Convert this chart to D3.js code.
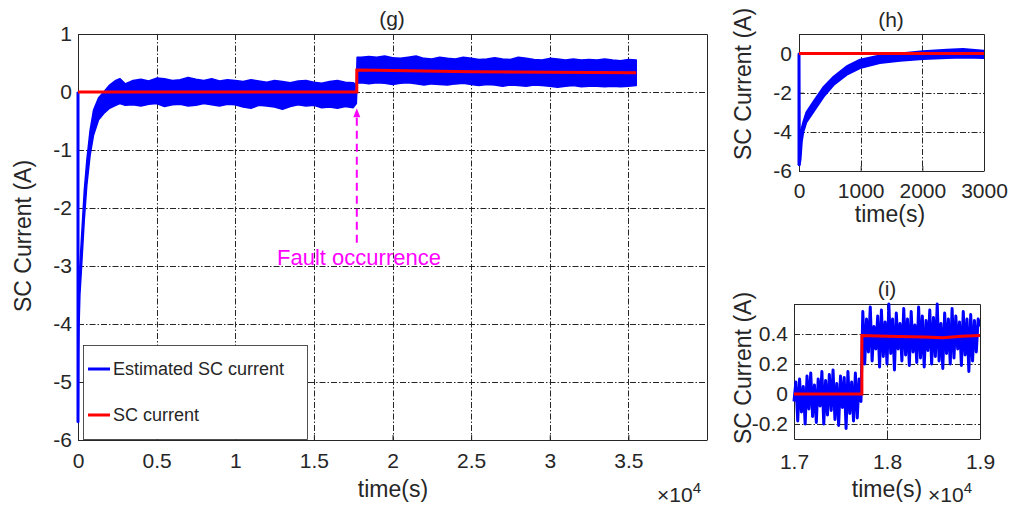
<!DOCTYPE html>
<html>
<head>
<meta charset="utf-8">
<script src="https://cdn.jsdelivr.net/npm/d3@7"></script>
<style>
  body { margin: 0; background: #fff; }
  text { font-family: "Liberation Sans", Arial, Helvetica, sans-serif; fill: #262626; }
</style>
</head>
<body>
<div id="chart"></div>
<script>
// ---- data ----
// start-up transient of the estimated SC current (envelope of the noisy trace)
const transT  = [0, 10, 25, 45, 70, 120, 230, 400, 560, 770, 990, 1310, 1640, 2010, 2400, 2660, 3000];
const transLo = [-5.7, -5.7, -5.4, -4.5, -4.0, -3.5, -3.0, -2.2, -1.61, -1.09, -0.74, -0.48, -0.37, -0.28, -0.23, -0.2, -0.23];
const transHi = [0, -5.0, -4.3, -3.8, -3.5, -3.0, -2.48, -1.7, -1.18, -0.66, -0.31, -0.1, 0.0, 0.12, 0.2, 0.23, 0.14];

// steady part before the fault (3500 ... 17500 s, every 500 s)
const preT  = [3500, 4000, 4500, 5000, 5500, 6000, 6500, 7000, 7500, 8000, 8500, 9000, 9500, 10000, 10500,
               11000, 11500, 12000, 12500, 13000, 13500, 14000, 14500, 15000, 15500, 16000, 16500, 17000, 17500, 17700];
const preHi = [0.2, 0.22, 0.19, 0.24, 0.23, 0.2, 0.21, 0.25, 0.22, 0.2, 0.23, 0.19, 0.21, 0.2, 0.18,
               0.21, 0.19, 0.17, 0.2, 0.18, 0.16, 0.19, 0.2, 0.17, 0.15, 0.18, 0.2, 0.17, 0.16, 0.12];
const preLo = [-0.22, -0.24, -0.21, -0.2, -0.25, -0.22, -0.21, -0.24, -0.23, -0.2, -0.22, -0.24, -0.21, -0.22, -0.26,
               -0.28, -0.23, -0.24, -0.26, -0.3, -0.25, -0.22, -0.24, -0.23, -0.27, -0.26, -0.28, -0.25, -0.27, -0.2];

// after the fault (17750 ... 35500 s)
const postT  = [17750, 18000, 18500, 19000, 19500, 20000, 20500, 21000, 21500, 22000, 22500, 23000, 23500, 24000, 24500,
                25000, 25500, 26000, 26500, 27000, 27500, 28000, 28500, 29000, 29500, 30000, 30500, 31000, 31500,
                32000, 32500, 33000, 33500, 34000, 34500, 35000, 35500];
const postHi = [0.6, 0.6, 0.61, 0.6, 0.62, 0.59, 0.58, 0.6, 0.62, 0.58, 0.57, 0.6, 0.58, 0.57, 0.6, 0.58, 0.56, 0.57, 0.59,
                0.57, 0.56, 0.6, 0.58, 0.56, 0.55, 0.58, 0.57, 0.55, 0.57, 0.55, 0.56, 0.55, 0.57, 0.55, 0.54, 0.56, 0.55];
const postLo = [0.15, 0.16, 0.14, 0.16, 0.15, 0.13, 0.15, 0.16, 0.14, 0.12, 0.14, 0.13, 0.12, 0.14, 0.15, 0.13, 0.11, 0.13, 0.12,
                0.1, 0.12, 0.11, 0.1, 0.12, 0.11, 0.1, 0.08, 0.1, 0.11, 0.09, 0.1, 0.1, 0.09, 0.1, 0.09, 0.1, 0.11];

// measured SC current (red)
const scT = [0, 17730, 17730, 20000, 25000, 30000, 35500];
const scV = [0, 0, 0.38, 0.37, 0.35, 0.34, 0.33];

// zoom (i): samples every 20 s from 17000 to 19000 s
const zoomStart = 17000, zoomStep = 20;
const zoomVals = [-0.05, 0.08, -0.18, 0.1, -0.12, 0.05, -0.2, 0.12, -0.1, 0.14, -0.15, 0.06, -0.19, 0.1, -0.08, 0.15,
  -0.2, 0.09, -0.14, 0.13, -0.11, 0.16, -0.17, 0.07, -0.21, 0.12, -0.09, 0.11, -0.23, 0.15, -0.13, 0.08, -0.18, 0.14,
  -0.16, 0.1, -0.05,
  0.55, 0.2, 0.5, 0.28, 0.58, 0.22, 0.45, 0.3, 0.52, 0.18, 0.56, 0.25, 0.48, 0.2, 0.6, 0.27, 0.5, 0.16, 0.54, 0.3,
  0.47, 0.22, 0.57, 0.26, 0.5, 0.19, 0.55, 0.28, 0.46, 0.21, 0.58, 0.24, 0.52, 0.18, 0.49, 0.29, 0.56, 0.2, 0.51, 0.25,
  0.6, 0.22, 0.47, 0.17, 0.54, 0.27, 0.5, 0.2, 0.57, 0.24, 0.52, 0.3, 0.48, 0.19, 0.55, 0.26, 0.5, 0.15, 0.53, 0.22,
  0.49, 0.28, 0.5, 0.45];
const zoomScT = [17000, 17730, 17730, 18000, 18400, 18600, 18800, 19000];
const zoomScV = [0, 0, 0.39, 0.385, 0.38, 0.375, 0.385, 0.39];

// fault annotation
const faultT = 17730, arrowFrom = -2.6, arrowTo = -0.28;

// ticks
const mainXTicks = [0, 5000, 10000, 15000, 20000, 25000, 30000, 35000];
const mainYTicks = [-6, -5, -4, -3, -2, -1, 0, 1];
const hXTicks = [0, 1000, 2000, 3000];
const hYTicks = [-6, -4, -2, 0];
const iXTicks = [17000, 18000, 19000];
const iYTicks = [-0.2, 0, 0.2, 0.4];

const width = 1013, height = 512;
const blue = '#0000ff', red = '#ff0000', magenta = '#ff00ff', ink = '#262626';

const svg = d3.select('#chart').append('svg')
  .attr('width', width)
  .attr('height', height);

// build envelope rows
const envRows = []
  .concat(transT.map((t, i) => ({ t: t, lo: transLo[i], hi: transHi[i] })))
  .concat(preT.map((t, i) => ({ t: t, lo: preLo[i], hi: preHi[i] })))
  .concat(postT.map((t, i) => ({ t: t, lo: postLo[i], hi: postHi[i] })));
const scRows = scT.map((t, i) => ({ t: t, v: scV[i] }));
const plain = d => String(d);
const fmtE4 = d => String(d / 10000);
const crisp = v => Math.round(v) + 0.5;

let clipId = 0;
function panel(o) {
  const x = d3.scaleLinear().domain(o.xDomain).range([o.left, o.right]);
  const y = d3.scaleLinear().domain(o.yDomain).range([o.bottom, o.top]);
  const g = svg.append('g');

  // grid (dash-dot)
  const grid = g.append('g')
    .attr('stroke', ink)
    .attr('stroke-width', 1)
    .attr('stroke-dasharray', '6,2,1.5,2');
  grid.selectAll('.gx').data(o.gridX).enter().append('line')
    .attr('x1', d => crisp(x(d))).attr('x2', d => crisp(x(d)))
    .attr('y1', o.top).attr('y2', o.bottom);
  grid.selectAll('.gy').data(o.gridY).enter().append('line')
    .attr('y1', d => crisp(y(d))).attr('y2', d => crisp(y(d)))
    .attr('x1', o.left).attr('x2', o.right);

  // axes
  const xa = g.append('g')
    .attr('transform', 'translate(0,' + o.bottom + ')')
    .call(d3.axisBottom(x).tickValues(o.xTicks).tickFormat(o.xFmt).tickSize(-5).tickSizeOuter(0).tickPadding(o.xPad));
  const ya = g.append('g')
    .attr('transform', 'translate(' + o.left + ',0)')
    .call(d3.axisLeft(y).tickValues(o.yTicks).tickFormat(o.yFmt).tickSize(-5).tickSizeOuter(0).tickPadding(o.yPad));
  [xa, ya].forEach(a => {
    a.selectAll('text').style('font-size', o.tickFont + 'px').attr('fill', ink);
    a.selectAll('line').attr('stroke', ink);
    a.select('.domain').attr('stroke', ink);
    a.attr('font-family', null);
  });

  // box top/right
  g.append('path')
    .attr('d', `M${o.left},${crisp(o.top)}H${crisp(o.right)}V${o.bottom}`)
    .attr('fill', 'none').attr('stroke', ink).attr('stroke-width', 1);

  clipId += 1;
  svg.append('clipPath').attr('id', 'clip' + clipId)
    .append('rect')
    .attr('x', o.left - 2).attr('y', o.top - 2)
    .attr('width', o.right - o.left + 2).attr('height', o.bottom - o.top + 3);
  const plot = svg.append('g').attr('clip-path', `url(#clip${clipId})`);

  // labels
  svg.append('text')
    .attr('x', o.titleX).attr('y', o.titleY)
    .attr('text-anchor', 'middle')
    .style('font-size', '21px')
    .text(o.title);
  svg.append('text')
    .attr('x', o.xLabelX).attr('y', o.xLabelY)
    .attr('text-anchor', 'middle')
    .style('font-size', '23px')
    .text('time(s)');
  svg.append('text')
    .attr('transform', `translate(${o.yLabelX},${o.yLabelY}) rotate(-90)`)
    .attr('text-anchor', 'middle')
    .attr('dy', '0.35em')
    .style('font-size', '23px')
    .text('SC Current (A)');
  if (o.expo) {
    const ex = svg.append('text')
      .attr('x', o.expo[0]).attr('y', o.expo[1])
      .style('font-size', '21px');
    ex.append('tspan').text('\u00d710');
    ex.append('tspan').attr('dy', -9).style('font-size', '15px').text('4');
  }
  return { x, y, plot };
}

const envArea = (x, y) => d3.area().x(d => x(d.t)).y0(d => y(d.lo)).y1(d => y(d.hi));
const scLine = (x, y) => d3.line().x(d => x(d.t)).y(d => y(d.v));

// the trace starts at 0 and drops straight to its minimum
function startDrop(p, w) {
  p.plot.append('line')
    .attr('x1', p.x(transT[0])).attr('x2', p.x(transT[0]))
    .attr('y1', p.y(transHi[0])).attr('y2', p.y(transLo[0]))
    .attr('stroke', blue).attr('stroke-width', w);
}

// ---------- (g) main ----------
const m = panel({
  left: 78, right: 707, top: 34, bottom: 440,
  xDomain: [0, 40000], yDomain: [-6, 1],
  xTicks: mainXTicks, yTicks: mainYTicks,
  xFmt: fmtE4, yFmt: plain,
  gridX: [5000, 10000, 15000, 20000, 25000, 30000, 35000], gridY: [-5, -4, -3, -2, -1, 0],
  xPad: 13, yPad: 6, tickFont: 21,
  title: '(g)', titleX: 392, titleY: 26,
  xLabelX: 393, xLabelY: 497, yLabelX: 23, yLabelY: 236,
  expo: [657, 502]
});
m.plot.append('path').datum(envRows)
  .attr('d', envArea(m.x, m.y))
  .attr('fill', blue).attr('stroke', blue).attr('stroke-width', 1.5).attr('stroke-linejoin', 'round');
startDrop(m, 3);
m.plot.append('path').datum(scRows)
  .attr('d', scLine(m.x, m.y))
  .attr('fill', 'none').attr('stroke', red).attr('stroke-width', 3);

// fault arrow + text
const ax = m.x(faultT);
svg.append('line')
  .attr('x1', ax).attr('x2', ax)
  .attr('y1', m.y(arrowFrom)).attr('y2', m.y(arrowTo) + 7)
  .attr('stroke', magenta).attr('stroke-width', 2).attr('stroke-dasharray', '8,5');
svg.append('path')
  .attr('d', `M${ax},${m.y(arrowTo)}L${ax - 3.5},${m.y(arrowTo) + 9}L${ax + 3.5},${m.y(arrowTo) + 9}Z`)
  .attr('fill', magenta);
svg.append('text')
  .attr('x', 359).attr('y', 265)
  .attr('text-anchor', 'middle')
  .style('font-size', '22px')
  .style('fill', magenta)
  .text('Fault occurrence');

// legend
const lg = svg.append('g');
lg.append('rect')
  .attr('x', 83.5).attr('y', 345.5).attr('width', 224).attr('height', 94)
  .attr('fill', '#fff').attr('stroke', ink).attr('stroke-width', 0.8);
const legendItems = [
  { name: 'Estimated SC current', color: blue, y: 369 },
  { name: 'SC current', color: red, y: 415 }
];
legendItems.forEach(it => {
  lg.append('line')
    .attr('x1', 88).attr('x2', 110).attr('y1', it.y).attr('y2', it.y)
    .attr('stroke', it.color).attr('stroke-width', 3);
  lg.append('text')
    .attr('x', 113).attr('y', it.y).attr('dy', '0.35em')
    .style('font-size', '18px')
    .text(it.name);
});

// ---------- (h) start-up zoom ----------
const h = panel({
  left: 799, right: 984, top: 34, bottom: 171,
  xDomain: [0, 3000], yDomain: [-6, 1],
  xTicks: hXTicks, yTicks: hYTicks,
  xFmt: plain, yFmt: plain,
  gridX: [1000, 2000], gridY: [-4, -2, 0],
  xPad: 12, yPad: 7, tickFont: 21,
  title: '(h)', titleX: 891, titleY: 27,
  xLabelX: 890, xLabelY: 222, yLabelX: 743, yLabelY: 84
});
h.plot.append('path').datum(envRows.filter(d => d.t <= 3000))
  .attr('d', envArea(h.x, h.y))
  .attr('fill', blue).attr('stroke', blue).attr('stroke-width', 2).attr('stroke-linejoin', 'round');
startDrop(h, 3);
h.plot.append('path').datum([{ t: 0, v: 0 }, { t: 3000, v: 0 }])
  .attr('d', scLine(h.x, h.y))
  .attr('fill', 'none').attr('stroke', red).attr('stroke-width', 3);

// ---------- (i) fault zoom ----------
const zi = panel({
  left: 794, right: 980, top: 304, bottom: 439,
  xDomain: [17000, 19000], yDomain: [-0.3, 0.6],
  xTicks: iXTicks, yTicks: iYTicks,
  xFmt: fmtE4, yFmt: plain,
  gridX: [18000], gridY: [-0.2, 0, 0.2, 0.4],
  xPad: 15, yPad: 6, tickFont: 21,
  title: '(i)', titleX: 887, titleY: 296,
  xLabelX: 887, xLabelY: 497, yLabelX: 743, yLabelY: 368,
  expo: [928, 502]
});
const zoomRows = zoomVals.map((v, i) => ({ t: zoomStart + i * zoomStep, v: v }));
zi.plot.append('path').datum(zoomRows)
  .attr('d', scLine(zi.x, zi.y))
  .attr('fill', 'none').attr('stroke', blue).attr('stroke-width', 3).attr('stroke-linejoin', 'round');
zi.plot.append('path').datum(zoomScT.map((t, i) => ({ t: t, v: zoomScV[i] })))
  .attr('d', scLine(zi.x, zi.y))
  .attr('fill', 'none').attr('stroke', red).attr('stroke-width', 3);
</script>
</body>
</html>
